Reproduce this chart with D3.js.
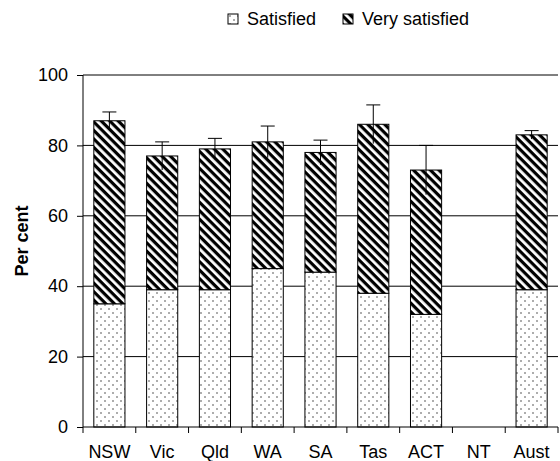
<!DOCTYPE html>
<html>
<head>
<meta charset="utf-8">
<script src="https://cdn.jsdelivr.net/npm/d3@7"></script>
<style>
  body { margin: 0; background: #fff; }
  svg text { font-family: "Liberation Sans", Arial, sans-serif; }
</style>
</head>
<body>
<svg id="chart" width="560" height="461"></svg>
<script>
// values
const states = ["NSW", "Vic", "Qld", "WA", "SA", "Tas", "ACT", "NT", "Aust"];
const satisfied = [35, 39, 39, 45, 44, 38, 32, 0, 39];
const verySatisfied = [52, 38, 40, 36, 34, 48, 41, 0, 44];
const errHalf = [2.5, 4, 3, 4.5, 3.5, 5.5, 7, 0, 1.2];
const yTicks = [0, 20, 40, 60, 80, 100];

const FONT = "'Liberation Sans', Arial, sans-serif";
const margin = { top: 75, right: 2, bottom: 34, left: 83 };
const width = 560 - margin.left - margin.right;
const height = 461 - margin.top - margin.bottom;

const svg = d3.select("#chart");
const defs = svg.append("defs");

// hatch for "Very satisfied" (stripes running top-left to bottom-right)
const hatch = defs.append("pattern")
  .attr("id", "hatch")
  .attr("patternUnits", "userSpaceOnUse")
  .attr("width", 6).attr("height", 6)
  .attr("patternTransform", "rotate(45)");
hatch.append("rect").attr("width", 6).attr("height", 6).attr("fill", "#fff");
hatch.append("rect").attr("width", 6).attr("height", 3.2).attr("fill", "#000");

// dots for "Satisfied"
const dots = defs.append("pattern")
  .attr("id", "dots")
  .attr("patternUnits", "userSpaceOnUse")
  .attr("width", 8).attr("height", 8);
dots.append("rect").attr("width", 8).attr("height", 8).attr("fill", "#fff");
dots.append("circle").attr("cx", 2).attr("cy", 2).attr("r", 0.8).attr("fill", "#444");
dots.append("circle").attr("cx", 6).attr("cy", 6).attr("r", 0.8).attr("fill", "#444");

const g = svg.append("g").attr("transform", `translate(${margin.left},${margin.top})`);

const x = d3.scaleBand().domain(states).range([0, width]).paddingInner(0.41).paddingOuter(0.205);
const y = d3.scaleLinear().domain([0, 100]).range([height, 0]);

// gridlines
g.selectAll(".grid")
  .data(yTicks.filter(d => d > 0))
  .join("line")
  .attr("x1", 0).attr("x2", width)
  .attr("y1", d => y(d)).attr("y2", d => y(d))
  .attr("stroke", "#000").attr("stroke-width", 1);

const data = states.map((s, i) => ({
  s, sat: satisfied[i], very: verySatisfied[i], err: errHalf[i]
}));

// satisfied bars
g.selectAll(".sat")
  .data(data)
  .join("rect")
  .attr("x", d => x(d.s))
  .attr("width", x.bandwidth())
  .attr("y", d => y(d.sat))
  .attr("height", d => y(0) - y(d.sat))
  .attr("fill", "url(#dots)")
  .attr("stroke", "#000").attr("stroke-width", 1);

// very satisfied bars
g.selectAll(".very")
  .data(data.filter(d => d.very > 0))
  .join("rect")
  .attr("x", d => x(d.s))
  .attr("width", x.bandwidth())
  .attr("y", d => y(d.sat + d.very))
  .attr("height", d => y(d.sat) - y(d.sat + d.very))
  .attr("fill", "url(#hatch)")
  .attr("stroke", "#000").attr("stroke-width", 1);

// error bars
const eb = g.selectAll(".err")
  .data(data.filter(d => d.err > 0))
  .join("g");
eb.append("line")
  .attr("x1", d => x(d.s) + x.bandwidth() / 2)
  .attr("x2", d => x(d.s) + x.bandwidth() / 2)
  .attr("y1", d => y(d.sat + d.very + d.err))
  .attr("y2", d => y(d.sat + d.very - d.err))
  .attr("stroke", "#000");
eb.append("line")
  .attr("x1", d => x(d.s) + x.bandwidth() / 2 - 7)
  .attr("x2", d => x(d.s) + x.bandwidth() / 2 + 7)
  .attr("y1", d => y(d.sat + d.very + d.err))
  .attr("y2", d => y(d.sat + d.very + d.err))
  .attr("stroke", "#000");

// y axis
const yAxis = g.append("g")
  .call(d3.axisLeft(y).tickValues(yTicks).tickSize(6).tickPadding(9))
  .attr("font-family", FONT);
yAxis.select(".domain").attr("stroke", "#000").attr("d", `M0,0V${height}`);
yAxis.selectAll("text").attr("font-size", 18).attr("fill", "#000");

// x axis, ticks on category boundaries
const xAxis = g.append("g").attr("transform", `translate(0,${height})`);
xAxis.append("line").attr("x1", 0).attr("x2", width).attr("stroke", "#000");
const step = x.step();
xAxis.selectAll(".tk")
  .data(d3.range(states.length + 1))
  .join("line")
  .attr("x1", i => i * step).attr("x2", i => i * step)
  .attr("y1", 0).attr("y2", 6)
  .attr("stroke", "#000");
xAxis.selectAll(".lbl")
  .data(states)
  .join("text")
  .attr("x", d => x(d) + x.bandwidth() / 2)
  .attr("y", 31)
  .attr("text-anchor", "middle")
  .attr("font-family", FONT)
  .attr("font-size", 18)
  .text(d => d);

// y label
svg.append("text")
  .attr("transform", `translate(28,241) rotate(-90)`)
  .attr("text-anchor", "middle")
  .attr("font-family", FONT)
  .attr("font-size", 18)
  .attr("font-weight", "bold")
  .text("Per cent");

// legend
const legendItems = [
  { label: "Satisfied", fill: "url(#dots)", x: 228 },
  { label: "Very satisfied", fill: "url(#hatch)", x: 343 }
];
const lg = svg.append("g").selectAll("g").data(legendItems).join("g")
  .attr("transform", d => `translate(${d.x},14)`);
lg.append("rect").attr("width", 10).attr("height", 10)
  .attr("fill", d => d.fill).attr("stroke", "#000");
lg.append("text").attr("x", 19).attr("y", 11)
  .attr("font-family", FONT)
  .attr("font-size", 18).text(d => d.label);
</script>
</body>
</html>
